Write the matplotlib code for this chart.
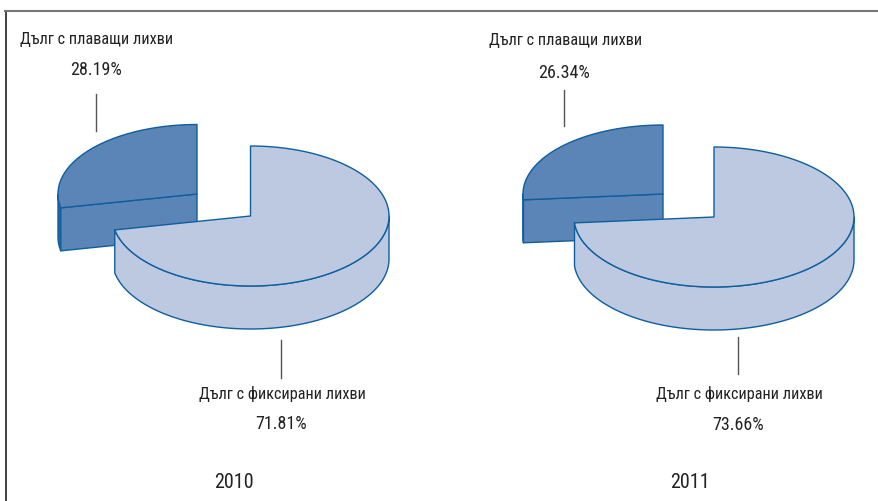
import numpy as np
import matplotlib
matplotlib.use("Agg")
import matplotlib.pyplot as plt
from matplotlib.patches import Polygon

plt.rcParams['font.family'] = ['Roboto Condensed', 'Roboto', 'Liberation Sans', 'DejaVu Sans']

years = ["2010", "2011"]
floating_share = [28.19, 26.34]
fixed_share = [71.81, 73.66]
floating_label = "Дълг с плаващи лихви"
fixed_label = "Дълг с фиксирани лихви"

DARK = "#5B84B7"
LIGHT = "#BCC9E1"
EDGE = "#0F5E9E"
TEXT = "#222222"
DEPTH = 43

# pixel layout for each pie
layouts = [
    dict(big=(250.5, 216, 138.5, 70), small=(197, 194, 139, 69.5), wall="#2F6499",
         lead_top=(96, 94, 131), lead_bot=(281, 340, 378),
         lab_top=(96.5, 39), pct_top=(96, 70), lab_bot=(282, 394), pct_bot=(281, 424), year=(233.5, 483)),
    dict(big=(714, 217, 140, 70), small=(663, 194, 140, 69), wall="#1F3A57",
         lead_top=(564.5, 90, 126), lead_bot=(738, 337, 374),
         lab_top=(565.5, 40), pct_top=(564, 73), lab_bot=(739, 394), pct_bot=(738, 425), year=(690, 482)),
]


def ell(geom, deg):
    cx, cy, rx, ry = geom
    a = np.radians(deg)
    return np.column_stack([cx + rx * np.cos(a), cy - ry * np.sin(a)])


def shape(ax, pts, color, z):
    ax.add_patch(Polygon(pts, closed=True, facecolor=color, edgecolor=EDGE, lw=1.0, joinstyle="round", zorder=z))


def draw_pie(ax, fixed, geo):
    end = 90 - fixed / 100 * 360  # fixed slice runs clockwise from 12 o'clock
    split = end + 360

    # floating slice, pulled out up and left
    small = geo["small"]
    arc = ell(small, np.linspace(90, split, 60))
    p = arc[-1]
    low = ell(small, np.linspace(180, split, 10)) + [0, DEPTH]
    top_low = ell(small, np.linspace(split, 180, 10))
    shape(ax, np.vstack([top_low, low]), geo["wall"], 2)
    shape(ax, [small[:2], p, p + [0, DEPTH], (small[0], small[1] + DEPTH)], DARK, 2)
    shape(ax, np.vstack([[small[:2]], arc]), DARK, 3)

    # fixed slice
    big = geo["big"]
    wall = ell(big, np.linspace(split, 360, 90))
    shape(ax, np.vstack([wall, (wall + [0, DEPTH])[::-1]]), LIGHT, 4)
    arc = ell(big, np.linspace(90, end, 160))
    shape(ax, np.vstack([[big[:2]], arc]), LIGHT, 5)


fig = plt.figure(figsize=(8.79, 5.01), dpi=100)
ax = fig.add_axes([0, 0, 1, 1])
ax.set_xlim(0, 879)
ax.set_ylim(501, 0)
ax.axis("off")

# frame
ax.plot([6, 6], [11, 501], color="#333333", lw=1.3)
ax.plot([5.5, 879], [11, 11], color="#777777", lw=1.5)

for i, geo in enumerate(layouts):
    draw_pie(ax, fixed_share[i], geo)
    for x, y0, y1 in (geo["lead_top"], geo["lead_bot"]):
        ax.plot([x, x], [y0, y1], color="#555555", lw=1.0)
    ax.text(*geo["lab_top"], floating_label, ha="center", va="center", fontsize=11.7, color=TEXT)
    ax.text(*geo["pct_top"], f"{floating_share[i]:.2f}%", ha="center", va="center", fontsize=13, color=TEXT)
    ax.text(*geo["lab_bot"], fixed_label, ha="center", va="center", fontsize=11.7, color=TEXT)
    ax.text(*geo["pct_bot"], f"{fixed_share[i]:.2f}%", ha="center", va="center", fontsize=13, color=TEXT)
    ax.text(*geo["year"], years[i], ha="center", va="center", fontsize=14.5, color=TEXT)

fig.savefig("out.png", dpi=100)
